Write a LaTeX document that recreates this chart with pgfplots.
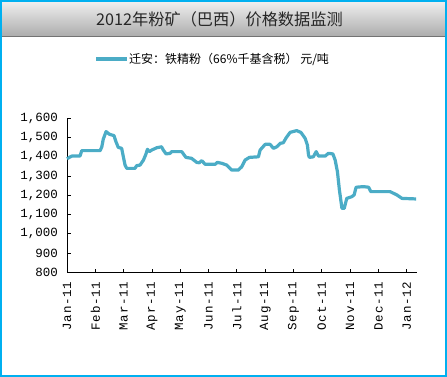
\documentclass[border=0pt]{standalone}
\usepackage{pgfplots}
\pgfplotsset{compat=1.18}
\usepackage{fontspec}
\setmainfont{Liberation Serif}
\newfontfamily\cjk{Noto Sans CJK SC}
\newfontfamily\tickfont{Liberation Mono}
\newfontfamily\xtickfont[LetterSpace=6]{Liberation Mono}
\definecolor{framecol}{RGB}{0,176,240}
\definecolor{linecol}{RGB}{75,172,198}
\begin{document}
\begin{tikzpicture}
\useasboundingbox (0pt,0pt) rectangle (447pt,377pt);
\shade[top color=black!6, bottom color=black!33] (2pt,340pt) rectangle (445pt,376pt);
\draw[black!55, line width=1pt] (2pt,340pt) -- (445pt,340pt);
\draw[framecol, line width=2pt] (1pt,1pt) rectangle (446pt,376pt);
\node[font=\cjk\fontsize{16.2}{18}\selectfont, text=black!85] at (219.5pt,358pt) {2012年粉矿（巴西）价格数据监测};
\draw[linecol, line width=3.2pt] (96pt,318pt) -- (127pt,318pt);
\node[font=\cjk\fontsize{12}{14}\selectfont, anchor=west, inner sep=0pt] at (129pt,318pt) {迁安：铁精粉（66\%千基含税） 元/吨};
\begin{axis}[
  at={(67pt,104.7pt)}, anchor=south west,
  scale only axis, width=349.7pt, height=154pt,
  xmin=0, xmax=12.35, ymin=800, ymax=1600,
  axis x line*=bottom, axis y line*=left,
  axis line style={black, line width=0.8pt},
  tick style={black, line width=0.8pt},
  tick align=inside, major tick length=3.5pt,
  xtick={0,1,...,12},
  xticklabels={Jan-11,Feb-11,Mar-11,Apr-11,May-11,Jun-11,Jul-11,Aug-11,Sep-11,Oct-11,Nov-11,Dec-11,Jan-12},
  x tick label style={rotate=90, anchor=east, font=\xtickfont\fontsize{12.5}{14}\selectfont, inner sep=0pt},
  ytick={800,900,...,1600},
  y tick label style={font=\tickfont\fontsize{12.5}{14}\selectfont, inner sep=0pt},
  /pgf/number format/assume math mode=true,
  /pgf/number format/1000 sep={,},
  xticklabel shift=9pt, yticklabel shift=9pt,
  clip=false,
]
\addplot[linecol, line width=3.2pt, line join=round] coordinates {
(0,1390) (0.17,1404) (0.46,1404) (0.52,1432) (1.17,1432) (1.23,1452) (1.28,1491) (1.38,1531)
(1.50,1517) (1.66,1510) (1.73,1478) (1.81,1449) (1.93,1444) (2.05,1357) (2.11,1340) (2.40,1340)
(2.46,1354) (2.58,1357) (2.70,1383) (2.79,1415) (2.84,1439) (2.91,1427) (2.99,1435) (3.17,1447)
(3.34,1452) (3.40,1435) (3.50,1415) (3.64,1418) (3.70,1427) (4.05,1427) (4.20,1397) (4.40,1392)
(4.58,1371) (4.67,1369) (4.76,1380) (4.88,1361) (5.23,1361) (5.31,1371) (5.47,1366) (5.64,1357)
(5.82,1331) (6.05,1331) (6.17,1348) (6.29,1383) (6.44,1397) (6.76,1400) (6.82,1435) (7.00,1465)
(7.17,1465) (7.29,1444) (7.41,1452) (7.53,1470) (7.64,1473) (7.74,1499) (7.88,1527) (8.11,1536)
(8.26,1527) (8.41,1496) (8.49,1461) (8.53,1409) (8.56,1397) (8.70,1400) (8.80,1427) (8.88,1404)
(9.12,1404) (9.23,1418) (9.39,1415) (9.47,1383) (9.55,1323) (9.62,1228) (9.71,1132) (9.79,1132)
(9.88,1184) (10.06,1193) (10.14,1202) (10.21,1242) (10.47,1245) (10.65,1242) (10.73,1219) (11.41,1219)
(11.65,1202) (11.83,1184) (12.33,1181)
};
\end{axis}
\end{tikzpicture}
\end{document}
